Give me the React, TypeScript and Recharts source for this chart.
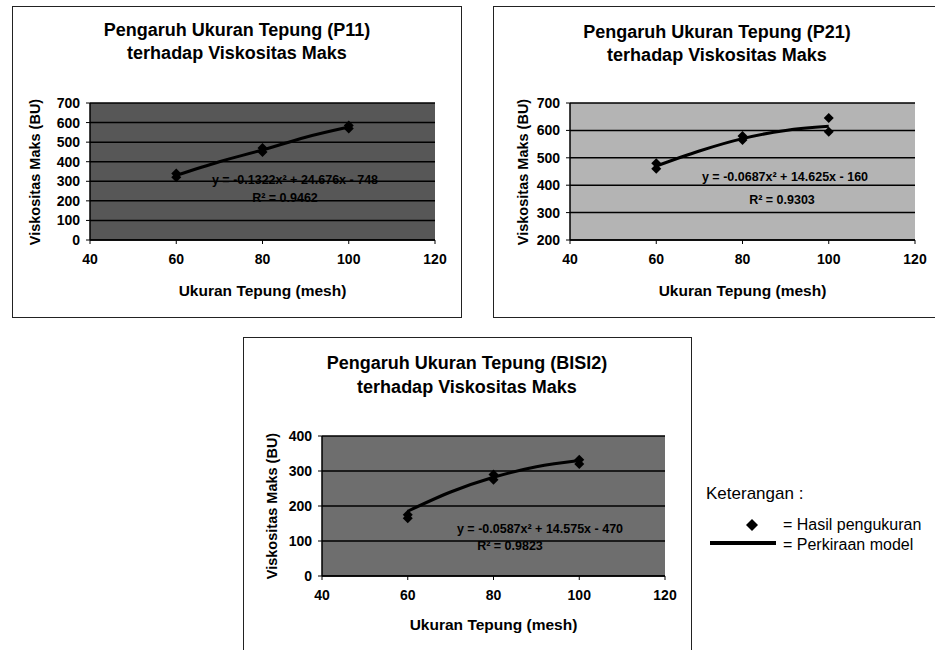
import React from "react";
import { ComposedChart, XAxis, YAxis, CartesianGrid, Scatter, Line } from "recharts";

// ---- data ----
const X_TICKS = [40, 60, 80, 100, 120];

const P11_TITLE = ["Pengaruh Ukuran Tepung (P11)", "terhadap Viskositas Maks"];
const P11_Y_TICKS = [0, 100, 200, 300, 400, 500, 600, 700];
const P11_PX = [60, 60, 80, 80, 100, 100];
const P11_PY = [320, 340, 450, 470, 570, 585];
const P11_TX = [60, 70, 80, 90, 100];
const P11_TY = [330, 400, 460, 525, 577];
const P11_EQ = ["y = -0.1322x² + 24.676x - 748", "R² = 0.9462"];

const P21_TITLE = ["Pengaruh Ukuran Tepung (P21)", "terhadap Viskositas Maks"];
const P21_Y_TICKS = [200, 300, 400, 500, 600, 700];
const P21_PX = [60, 60, 80, 80, 100, 100];
const P21_PY = [460, 480, 565, 580, 595, 645];
const P21_TX = [60, 70, 80, 90, 100];
const P21_TY = [470, 525, 570, 600, 615];
const P21_EQ = ["y = -0.0687x² + 14.625x - 160", "R² = 0.9303"];

const B2_TITLE = ["Pengaruh Ukuran Tepung (BISI2)", "terhadap Viskositas Maks"];
const B2_Y_TICKS = [0, 100, 200, 300, 400];
const B2_PX = [60, 60, 80, 80, 100, 100];
const B2_PY = [165, 175, 275, 290, 320, 332];
const B2_TX = [60, 70, 80, 90, 100];
const B2_TY = [185, 240, 282, 312, 330];
const B2_EQ = ["y = -0.0587x² + 14.575x - 470", "R² = 0.9823"];

const X_TITLE = "Ukuran Tepung (mesh)";
const Y_TITLE = "Viskositas Maks (BU)";
const LEGEND_TITLE = "Keterangan :";
const LEGEND_POINT = "= Hasil pengukuran";
const LEGEND_LINE = "= Perkiraan model";

const FONT = "'Liberation Sans', Arial, Helvetica, sans-serif";

const zip = (xs: number[], ys: number[]) => xs.map((x, i) => ({ x, y: ys[i] }));

const Diamond = (props: any) => {
  const { cx, cy } = props;
  const r = 5;
  return (
    <polygon
      points={`${cx},${cy - r} ${cx + r},${cy} ${cx},${cy + r} ${cx - r},${cy}`}
      fill="#000"
    />
  );
};

type Rect = { left: number; top: number; width: number; height: number };

interface ChartProps {
  box: Rect;
  plot: { l: number; r: number; t: number; b: number };
  title: string[];
  titleX: number;
  titleY: [number, number];
  yTicks: number[];
  px: number[];
  py: number[];
  tx: number[];
  ty: number[];
  eq: string[];
  eqPos: [number, number, number, number];
  bg: string;
  xTitleY: number;
  yTitleX: number;
}

const YW = 50;
const XH = 40;

function Panel(p: ChartProps) {
  const { box, plot } = p;
  const margin = {
    left: plot.l - box.left - YW,
    top: plot.t - box.top,
    right: box.left + box.width - plot.r,
    bottom: box.top + box.height - plot.b - XH,
  };
  const yDomain: [number, number] = [p.yTicks[0], p.yTicks[p.yTicks.length - 1]];
  const tickStyle = { fontFamily: FONT, fontWeight: 700, fontSize: 14, fill: "#000" };
  const cx = (plot.l + plot.r) / 2;
  const cy = (plot.t + plot.b) / 2;
  return (
    <>
      <div
        style={{
          position: "absolute",
          left: box.left,
          top: box.top,
          width: box.width,
          height: box.height,
          border: "1px solid #222",
          boxSizing: "border-box",
        }}
      />
      <div style={{ position: "absolute", left: box.left, top: box.top }}>
        <ComposedChart width={box.width} height={box.height} margin={margin}>
          <CartesianGrid
            horizontal={true}
            vertical={false}
            fill={p.bg}
            fillOpacity={1}
            stroke="#000"
            strokeWidth={1.5}
          />
          <XAxis
            type="number"
            dataKey="x"
            domain={[40, 120]}
            ticks={X_TICKS}
            interval={0}
            height={XH}
            tick={tickStyle}
            tickSize={4}
            tickMargin={10}
            axisLine={{ stroke: "#000", strokeWidth: 1.5 }}
            tickLine={{ stroke: "#000" }}
            allowDataOverflow
          />
          <YAxis
            type="number"
            dataKey="y"
            domain={yDomain}
            ticks={p.yTicks}
            interval={0}
            width={YW}
            tick={tickStyle}
            tickSize={4}
            tickMargin={6}
            axisLine={{ stroke: "#000", strokeWidth: 1.5 }}
            tickLine={{ stroke: "#000" }}
            allowDataOverflow
          />
          <Line
            data={zip(p.tx, p.ty)}
            dataKey="y"
            type="monotone"
            stroke="#000"
            strokeWidth={3}
            dot={false}
            isAnimationActive={false}
          />
          <Scatter
            data={zip(p.px, p.py)}
            dataKey="y"
            fill="#000"
            shape={Diamond}
            isAnimationActive={false}
          />
        </ComposedChart>
      </div>
      {p.title.map((t, i) => (
        <div
          key={i}
          style={{
            position: "absolute",
            left: p.titleX - 200,
            width: 400,
            top: p.titleY[i] - 11,
            lineHeight: "22px",
            textAlign: "center",
            fontFamily: FONT,
            fontWeight: 700,
            fontSize: 18,
            whiteSpace: "nowrap",
          }}
        >
          {t}
        </div>
      ))}
      <div
        style={{
          position: "absolute",
          left: cx - 150,
          width: 300,
          top: p.xTitleY - 10,
          lineHeight: "20px",
          textAlign: "center",
          fontFamily: FONT,
          fontWeight: 700,
          fontSize: 15.5,
        }}
      >
        {X_TITLE}
      </div>
      <div
        style={{
          position: "absolute",
          left: p.yTitleX - 100,
          top: cy - 9,
          width: 200,
          lineHeight: "18px",
          textAlign: "center",
          fontFamily: FONT,
          fontWeight: 700,
          fontSize: 14.5,
          transform: "rotate(-90deg)",
          whiteSpace: "nowrap",
        }}
      >
        {Y_TITLE}
      </div>
      <div
        style={{
          position: "absolute",
          left: p.eqPos[0] - 150,
          width: 300,
          top: p.eqPos[1] - 8,
          lineHeight: "16px",
          textAlign: "center",
          fontFamily: FONT,
          fontWeight: 700,
          fontSize: 12.5,
          whiteSpace: "nowrap",
        }}
      >
        {p.eq[0]}
      </div>
      <div
        style={{
          position: "absolute",
          left: p.eqPos[2] - 100,
          width: 200,
          top: p.eqPos[3] - 8,
          lineHeight: "16px",
          textAlign: "center",
          fontFamily: FONT,
          fontWeight: 700,
          fontSize: 12.5,
          whiteSpace: "nowrap",
        }}
      >
        {p.eq[1]}
      </div>
    </>
  );
}

export default function App() {
  return (
    <div
      style={{
        position: "absolute",
        left: 0,
        top: 0,
        width: 935,
        height: 650,
        overflow: "hidden",
        background: "#fff",
      }}
    >
      <Panel
        box={{ left: 12, top: 6, width: 450, height: 312 }}
        plot={{ l: 90, r: 435, t: 103, b: 240 }}
        title={P11_TITLE}
        titleX={237}
        titleY={[30, 53]}
        yTicks={P11_Y_TICKS}
        px={P11_PX}
        py={P11_PY}
        tx={P11_TX}
        ty={P11_TY}
        eq={P11_EQ}
        eqPos={[295, 180, 285, 198]}
        bg="#575757"
        xTitleY={291}
        yTitleX={35}
      />
      <Panel
        box={{ left: 493, top: 6, width: 460, height: 312 }}
        plot={{ l: 570, r: 915, t: 103, b: 240 }}
        title={P21_TITLE}
        titleX={717}
        titleY={[32, 55]}
        yTicks={P21_Y_TICKS}
        px={P21_PX}
        py={P21_PY}
        tx={P21_TX}
        ty={P21_TY}
        eq={P21_EQ}
        eqPos={[785, 177, 782, 200]}
        bg="#b4b4b4"
        xTitleY={291}
        yTitleX={523}
      />
      <Panel
        box={{ left: 243, top: 337, width: 449, height: 330 }}
        plot={{ l: 322, r: 665, t: 436, b: 576 }}
        title={B2_TITLE}
        titleX={467}
        titleY={[363, 387]}
        yTicks={B2_Y_TICKS}
        px={B2_PX}
        py={B2_PY}
        tx={B2_TX}
        ty={B2_TY}
        eq={B2_EQ}
        eqPos={[540, 529, 510, 546]}
        bg="#6e6e6e"
        xTitleY={625}
        yTitleX={272}
      />
      <div
        style={{
          position: "absolute",
          left: 706,
          top: 483,
          lineHeight: "22px",
          fontFamily: FONT,
          fontSize: 17,
          whiteSpace: "nowrap",
        }}
      >
        {LEGEND_TITLE}
      </div>
      <svg style={{ position: "absolute", left: 700, top: 510 }} width={90} height={50}>
        <polygon points="52,9 58,15 52,21 46,15" fill="#000" />
        <rect x={10} y={31} width={66} height={4} fill="#000" />
      </svg>
      <div
        style={{
          position: "absolute",
          left: 783,
          top: 515,
          lineHeight: "20px",
          fontFamily: FONT,
          fontSize: 16,
          whiteSpace: "nowrap",
        }}
      >
        {LEGEND_POINT}
      </div>
      <div
        style={{
          position: "absolute",
          left: 783,
          top: 535,
          lineHeight: "20px",
          fontFamily: FONT,
          fontSize: 16,
          whiteSpace: "nowrap",
        }}
      >
        {LEGEND_LINE}
      </div>
    </div>
  );
}
